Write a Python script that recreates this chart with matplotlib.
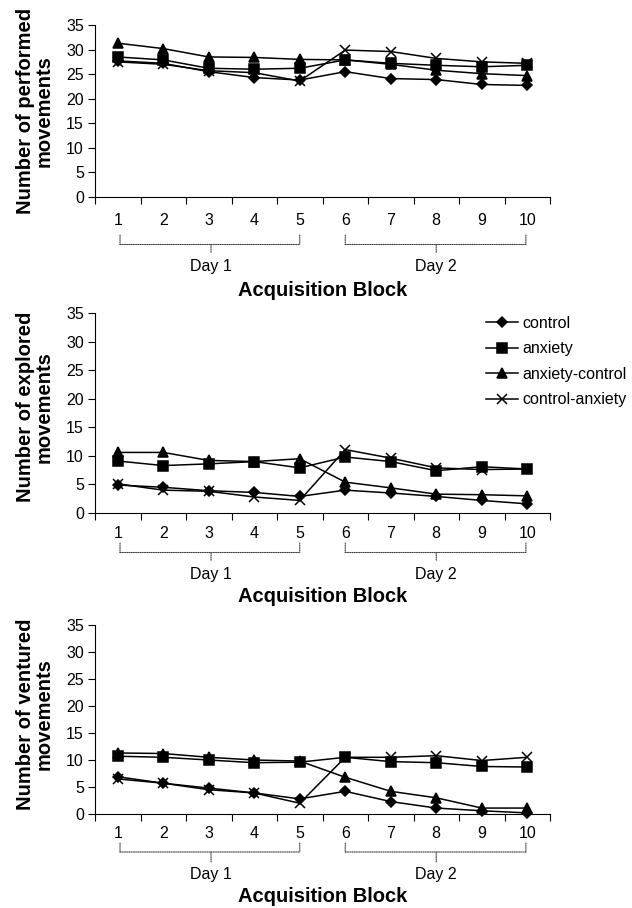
import numpy as np
import matplotlib
matplotlib.use("Agg")
import matplotlib.pyplot as plt
import matplotlib.transforms as mtransforms

plt.rcParams['font.family'] = ['Liberation Sans', 'DejaVu Sans']

blocks = list(range(1, 11))
groups = ['control', 'anxiety', 'anxiety-control', 'control-anxiety']
markers = ['D', 's', '^', 'x']
msizes = [5, 6.5, 7, 7]

performed = {
    'control':         [27.7, 27.2, 25.5, 24.3, 23.8, 25.5, 24.1, 23.9, 22.9, 22.7],
    'anxiety':         [28.5, 27.9, 26.2, 26.0, 26.2, 27.9, 27.2, 26.8, 26.5, 26.8],
    'anxiety-control': [31.3, 30.2, 28.5, 28.4, 28.0, 27.9, 27.0, 25.8, 25.1, 24.7],
    'control-anxiety': [27.5, 27.0, 25.7, 25.3, 23.6, 29.9, 29.6, 28.2, 27.5, 27.2],
}
explored = {
    'control':         [4.9, 4.5, 3.9, 3.6, 2.9, 4.0, 3.5, 2.9, 2.2, 1.6],
    'anxiety':         [9.1, 8.3, 8.6, 9.0, 7.9, 9.8, 9.0, 7.4, 8.1, 7.7],
    'anxiety-control': [10.6, 10.6, 9.2, 9.0, 9.5, 5.4, 4.4, 3.3, 3.2, 3.0],
    'control-anxiety': [5.1, 4.0, 3.8, 2.8, 2.2, 11.1, 9.6, 7.9, 7.6, 7.7],
}
ventured = {
    'control':         [6.9, 5.7, 4.8, 3.9, 2.8, 4.2, 2.3, 1.1, 0.6, 0.2],
    'anxiety':         [10.7, 10.5, 10.0, 9.5, 9.6, 10.5, 9.7, 9.5, 8.8, 8.7],
    'anxiety-control': [11.3, 11.2, 10.5, 10.0, 9.8, 6.8, 4.2, 3.0, 1.1, 1.1],
    'control-anxiety': [6.5, 5.7, 4.5, 3.9, 2.0, 10.5, 10.5, 10.8, 9.9, 10.5],
}

panels = [
    (performed, 'Number of performed\nmovements'),
    (explored, 'Number of explored\nmovements'),
    (ventured, 'Number of ventured\nmovements'),
]
# (top, bottom) of each axes in pixels
boxes = [(25, 197), (313, 513), (625, 814)]
# tick label pad (pt), bracket ends, bracket line, middle tick, day label, xlabel (px below axis)
offsets = [
    (11.6, 38, 47.5, 55.5, 70, 93),
    (9.3, 30, 39.5, 48, 61, 83.5),
    (8.8, 29, 38, 49, 60, 83),
]
ylabel_shift = [0, 6, 5]
days = [('Day 1', 1.05, 5.0, 3.05), ('Day 2', 6.0, 9.97, 8.0)]

W, H = 632, 908
fig = plt.figure(figsize=(W / 100, H / 100), dpi=100)


def below(ax, px):
    # x in data, y at the axis bottom shifted down by px pixels
    base = mtransforms.blended_transform_factory(ax.transData, ax.transAxes)
    return base + mtransforms.ScaledTranslation(0, -px / 100, fig.dpi_scale_trans)


def dotted(ax, x0, x1, y0, y1):
    ax.annotate('', xy=(x1, 0), xycoords=below(ax, y1), xytext=(x0, 0),
                textcoords=below(ax, y0),
                arrowprops=dict(arrowstyle='-', color='#444444', lw=0.8,
                                ls=(0, (1, 1)), shrinkA=0, shrinkB=0))


for i, (data, ylabel) in enumerate(panels):
    top, bot = boxes[i]
    pad, y_end, y_hor, y_mid, y_day, y_lab = offsets[i]
    ax = fig.add_axes([95 / W, 1 - bot / H, 455 / W, (bot - top) / H])
    for g, m, ms in zip(groups, markers, msizes):
        ax.plot(blocks, data[g], color='black', lw=1.1, marker=m, ms=ms,
                mew=1.1, label=g, clip_on=False)
    ax.set_xlim(0.5, 10.5)
    ax.set_ylim(0, 35)
    ax.set_yticks(range(0, 36, 5))
    ax.set_xticks(np.arange(0.5, 11, 1))
    ax.set_xticklabels([])
    ax.set_xticks(blocks, minor=True)
    ax.set_xticklabels([str(b) for b in blocks], minor=True)
    ax.tick_params(axis='x', which='minor', length=0, pad=pad, labelsize=11.5)
    ax.tick_params(axis='x', which='major', length=5, direction='out')
    ax.tick_params(axis='y', length=5, direction='out', labelsize=11.5, pad=3)
    for s in ['top', 'right']:
        ax.spines[s].set_visible(False)

    for name, x0, x1, xm in days:
        dotted(ax, x0, x1, y_hor, y_hor)
        dotted(ax, x0, x0, y_end, y_hor)
        dotted(ax, x1, x1, y_end, y_hor)
        dotted(ax, xm, xm, y_hor, y_mid)
        ax.text(xm, 0, name, transform=below(ax, y_day), ha='center',
                va='center', fontsize=11.5)
    ax.text(5.5, 0, 'Acquisition Block', transform=below(ax, y_lab),
            ha='center', va='center', fontsize=14.5, fontweight='bold')

    fig.text(35 / W, 1 - ((top + bot) / 2 - ylabel_shift[i]) / H, ylabel,
             rotation=90, ha='center', va='center', fontsize=14.5,
             fontweight='bold', linespacing=1.0, multialignment='center')

    if i == 1:
        ax.legend(loc='upper left', bbox_to_anchor=(486 / W, 1 - 316 / H),
                  bbox_transform=fig.transFigure, frameon=False, fontsize=11.5,
                  handlelength=2.0, handletextpad=0.25, labelspacing=0.65,
                  borderpad=0, borderaxespad=0)

fig.savefig('out.png', dpi=100)
